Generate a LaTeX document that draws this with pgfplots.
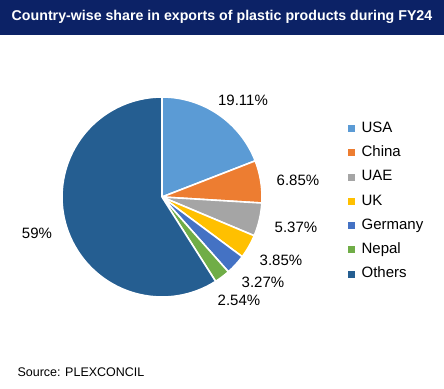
\documentclass[border=0pt]{standalone}
\usepackage{pgfplots}
\usepackage{pgfplotstable}
\pgfplotsset{compat=1.18}
\usepackage{fontspec}
\setmainfont{Liberation Sans}
\definecolor{titlebg}{HTML}{0C2266}
\definecolor{pie0}{HTML}{5B9BD5}
\definecolor{pie1}{HTML}{ED7D31}
\definecolor{pie2}{HTML}{A5A5A5}
\definecolor{pie3}{HTML}{FFC000}
\definecolor{pie4}{HTML}{4472C4}
\definecolor{pie5}{HTML}{70AD47}
\definecolor{pie6}{HTML}{255E91}
\pgfplotstableread{
name value
USA 19.11
China 6.85
UAE 5.37
UK 3.85
Germany 3.27
Nepal 2.54
Others 59
}\piedata
\newcommand{\lfont}{\fontsize{15}{18}\selectfont}
\begin{document}
\begin{tikzpicture}
\gdef\cum{0}
\foreach \i in {0,...,6}{%
  \pgfplotstablegetelem{\i}{value}\of\piedata
  \pgfmathsetmacro\va{90-3.6*\cum}%
  \pgfmathsetmacro\vb{90-3.6*(\cum+\pgfplotsretval)}%
  \pgfmathsetmacro\vc{\cum+\pgfplotsretval}%
  \expandafter\xdef\csname pa\i\endcsname{\va}%
  \expandafter\xdef\csname pb\i\endcsname{\vb}%
  \xdef\cum{\vc}%
}
\begin{axis}[
  x=1pt, y=1pt, xmin=0, xmax=444, ymin=0, ymax=388,
  scale only axis, hide axis, clip=false,
  legend style={draw=none, fill=none, font=\lfont,
    at={(axis cs:345,270)}, anchor=north west,
    nodes={inner sep=1pt, text height=11pt, text depth=3pt},
    row sep=8.3pt,
    /tikz/every odd column/.append style={column sep=6pt}},
  legend cell align=left,
]
\fill[white] (axis cs:0,0) rectangle (axis cs:444,388);
\fill[titlebg] (axis cs:0,353) rectangle (axis cs:444,388);
\node[white, font=\bfseries\fontsize{14.2}{17}\selectfont] at (axis cs:222,371) {Country-wise share in exports of plastic products during FY24};
\pgfplotsinvokeforeach{0,...,6}{
  \fill[fill=pie#1, draw=white, line width=1.6pt, line join=round]
    (axis cs:162,191) -- ([shift={(\csname pa#1\endcsname:100pt)}]axis cs:162,191)
    arc[start angle=\csname pa#1\endcsname, end angle=\csname pb#1\endcsname, radius=100pt] -- cycle;
}
\node[font=\lfont] at (axis cs:243,288) {19.11\%};
\node[font=\lfont] at (axis cs:298,208) {6.85\%};
\node[font=\lfont] at (axis cs:296,161) {5.37\%};
\node[font=\lfont] at (axis cs:281,128) {3.85\%};
\node[font=\lfont] at (axis cs:263,106) {3.27\%};
\node[font=\lfont] at (axis cs:239,88) {2.54\%};
\node[font=\lfont] at (axis cs:37,155) {59\%};
\node[font=\fontsize{12.5}{15}\selectfont, anchor=west] at (axis cs:14,16) {Source: PLEXCONCIL};
\pgfplotsinvokeforeach{0,...,6}{
  \addlegendimage{legend image code/.code={\fill[pie#1] (0pt,-3pt) rectangle (6pt,3pt);}}
}
\legend{USA,China,UAE,UK,Germany,Nepal,Others}
\end{axis}
\end{tikzpicture}
\end{document}
